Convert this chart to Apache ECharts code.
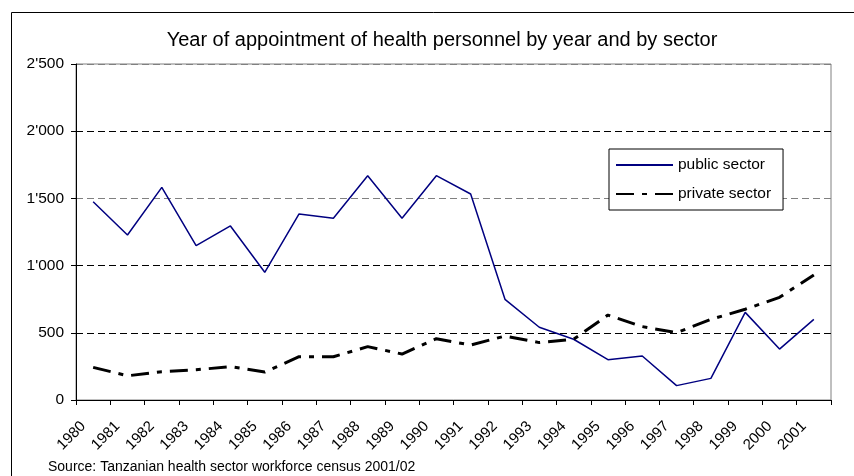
<!DOCTYPE html>
<html>
<head>
<meta charset="utf-8">
<script src="https://cdn.jsdelivr.net/npm/echarts@6/dist/echarts.min.js"></script>
<style>
  html, body { margin: 0; padding: 0; background: #fff; }
  #chart { width: 854px; height: 476px; }
</style>
</head>
<body>
<div id="chart"></div>
<script>
const years = ['1980', '1981', '1982', '1983', '1984', '1985', '1986', '1987', '1988', '1989', '1990',
  '1991', '1992', '1993', '1994', '1995', '1996', '1997', '1998', '1999', '2000', '2001'];

const publicSector = [1475, 1228, 1582, 1148, 1295, 950, 1384, 1352, 1669, 1352, 1669,
  1533, 749, 541, 452, 300, 327, 107, 161, 652, 379, 600];

const privateSector = [243, 180, 211, 225, 248, 208, 322, 322, 397, 342, 456,
  409, 476, 427, 452, 632, 546, 501, 600, 675, 764, 930];

const yTickLabels = { 0: '0', 500: '500', 1000: "1'000", 1500: "1'500", 2000: "2'000", 2500: "2'500" };

const FONT = "'Liberation Sans', Arial, sans-serif";

const chart = echarts.init(document.getElementById('chart'), null, { renderer: 'canvas' });

chart.setOption({
  animation: false,
  textStyle: { fontFamily: FONT, color: '#000' },
  title: {
    text: 'Year of appointment of health personnel by year and by sector',
    left: 437,
    textAlign: 'center',
    top: 25,
    textStyle: { fontFamily: FONT, fontSize: 20, fontWeight: 'normal', color: '#000' },
  },
  legend: {
    left: 609,
    top: 149,
    orient: 'vertical',
    padding: [8, 12, 8, 6],
    itemGap: 13,
    itemWidth: 57,
    itemHeight: 16,
    itemTextGap: 5,
    backgroundColor: '#fff',
    borderColor: '#000',
    borderWidth: 1,
    // hide the marker the line legend draws on top of the sample
    itemStyle: { color: 'transparent', borderWidth: 0, opacity: 0 },
    textStyle: { fontFamily: FONT, fontSize: 15.5, color: '#000' },
  },
  grid: {
    left: 76,
    right: 23,
    top: 64,
    bottom: 76,
    show: true,
    borderColor: '#808080',
    borderWidth: 1,
  },
  xAxis: {
    type: 'category',
    data: years,
    boundaryGap: true,
    axisLine: { lineStyle: { color: '#000', width: 1 } },
    axisTick: { show: true, length: 5, lineStyle: { color: '#000' } },
    axisLabel: {
      rotate: 45,
      margin: 14,
      padding: [0, 14, 0, 0],
      fontSize: 15,
      color: '#000',
      interval: 0,
    },
    splitLine: { show: false },
  },
  yAxis: {
    type: 'value',
    min: 0,
    max: 2500,
    interval: 500,
    axisLine: { show: true, lineStyle: { color: '#000', width: 1 } },
    axisTick: { show: true, length: 5, lineStyle: { color: '#000' } },
    axisLabel: {
      margin: 12,
      fontSize: 15.5,
      color: '#000',
      formatter: v => yTickLabels[v] ?? String(v),
    },
    splitLine: {
      show: true,
      lineStyle: {
        color: ['#000', '#000', '#000', '#808080', '#000', '#808080'],
        type: [7, 4],
        width: 1,
      },
    },
  },
  series: [
    {
      name: 'public sector',
      type: 'line',
      data: publicSector,
      symbol: 'none',
      lineStyle: { color: '#000080', width: 1.5 },
      itemStyle: { color: '#000080' },
    },
    {
      name: 'private sector',
      type: 'line',
      data: privateSector,
      symbol: 'none',
      lineStyle: { color: '#000', width: 3, type: [18, 8, 5, 8] },
      itemStyle: { color: '#000' },
    },
  ],
  graphic: [
    {
      type: 'rect',
      left: 9,
      top: 10,
      shape: { width: 900, height: 520 },
      style: { fill: 'none', stroke: '#000', lineWidth: 1 },
      silent: true,
    },
    {
      type: 'text',
      left: 48,
      top: 460,
      style: {
        text: 'Source: Tanzanian health sector workforce census 2001/02',
        fontFamily: FONT,
        fontSize: 14,
        fill: '#000',
      },
    },
  ],
});
</script>
</body>
</html>
